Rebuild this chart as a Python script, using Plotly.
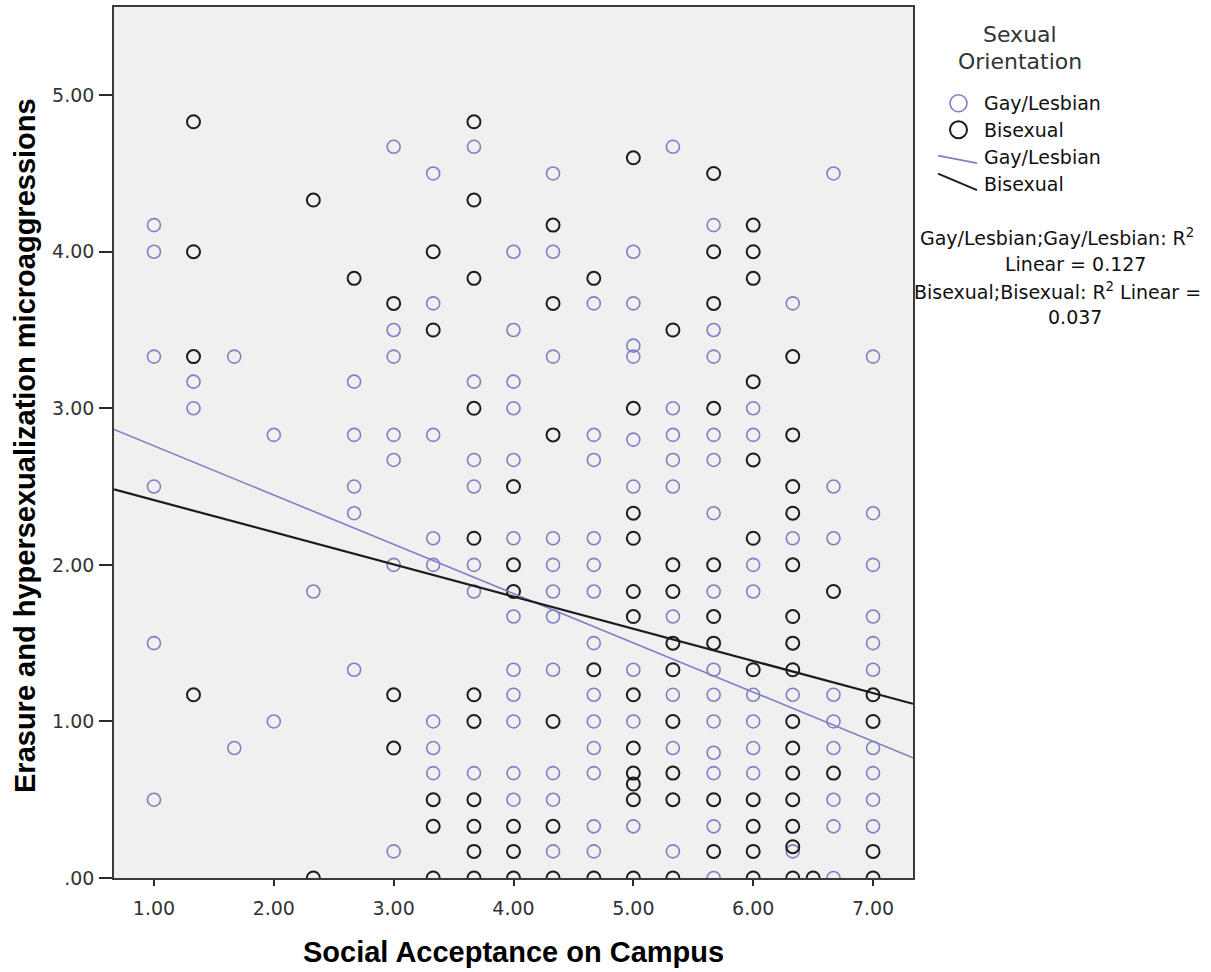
import plotly.graph_objects as go

# ---------------- data ----------------
# Gay/Lesbian points, listed column by column (x = Social Acceptance)
gl_x = ([1.00] * 6 + [1.33] * 2 + [1.67] * 2 + [2.00] * 2 + [2.33] * 1 + [2.67] * 5 +
        [3.00] * 7 + [3.33] * 8 + [3.67] * 7 + [4.00] * 12 + [4.33] * 11 + [4.67] * 13 +
        [5.00] * 9 + [5.33] * 9 + [5.67] * 14 + [6.00] * 8 + [6.33] * 4 + [6.67] * 9 +
        [7.00] * 10)
gl_y = [4.17, 4.00, 3.33, 2.50, 1.50, 0.50,
        3.17, 3.00,
        3.33, 0.83,
        2.83, 1.00,
        1.83,
        3.17, 2.83, 2.50, 2.33, 1.33,
        4.67, 3.50, 3.33, 2.83, 2.67, 2.00, 0.17,
        4.50, 3.67, 2.83, 2.17, 2.00, 1.00, 0.83, 0.67,
        4.67, 3.17, 2.67, 2.50, 2.00, 1.83, 0.67,
        4.00, 3.50, 3.17, 3.00, 2.67, 2.17, 1.67, 1.33, 1.17, 1.00, 0.67, 0.50,
        4.50, 4.00, 3.33, 2.17, 2.00, 1.83, 1.67, 1.33, 0.67, 0.50, 0.17,
        3.67, 2.83, 2.67, 2.17, 2.00, 1.83, 1.50, 1.17, 1.00, 0.83, 0.67, 0.33, 0.17,
        4.00, 3.67, 3.40, 3.33, 2.80, 2.50, 1.33, 1.00, 0.33,
        4.67, 3.00, 2.83, 2.67, 2.50, 1.67, 1.17, 0.83, 0.17,
        4.17, 3.50, 3.33, 2.83, 2.67, 2.33, 1.83, 1.33, 1.17, 1.00, 0.80, 0.67, 0.33, 0.00,
        3.00, 2.83, 2.00, 1.83, 1.17, 1.00, 0.83, 0.67,
        3.67, 2.17, 1.17, 0.17,
        4.50, 2.50, 2.17, 1.17, 1.00, 0.83, 0.50, 0.33, 0.00,
        3.33, 2.33, 2.00, 1.67, 1.50, 1.33, 0.83, 0.67, 0.50, 0.33]

# Bisexual points, listed column by column
bi_x = ([1.33] * 4 + [2.33] * 2 + [2.67] * 1 + [3.00] * 3 + [3.33] * 5 + [3.67] * 11 +
        [4.00] * 6 + [4.33] * 6 + [4.67] * 3 + [5.00] * 12 + [5.33] * 9 + [5.67] * 9 +
        [6.00] * 11 + [6.33] * 15 + [6.50] * 1 + [6.67] * 2 + [7.00] * 4)
bi_y = [4.83, 4.00, 3.33, 1.17,
        4.33, 0.00,
        3.83,
        3.67, 1.17, 0.83,
        4.00, 3.50, 0.50, 0.33, 0.00,
        4.83, 4.33, 3.83, 3.00, 2.17, 1.17, 1.00, 0.50, 0.33, 0.17, 0.00,
        2.50, 2.00, 1.83, 0.33, 0.17, 0.00,
        4.17, 3.67, 2.83, 1.00, 0.33, 0.00,
        3.83, 1.33, 0.00,
        4.60, 3.00, 2.33, 2.17, 1.83, 1.67, 1.17, 0.83, 0.67, 0.60, 0.50, 0.00,
        3.50, 2.00, 1.83, 1.50, 1.33, 1.00, 0.67, 0.50, 0.00,
        4.50, 4.00, 3.67, 3.00, 2.00, 1.67, 1.50, 0.50, 0.17,
        4.17, 4.00, 3.83, 3.17, 2.67, 2.17, 1.33, 0.50, 0.33, 0.17, 0.00,
        3.33, 2.83, 2.50, 2.33, 2.00, 1.67, 1.50, 1.33, 1.00, 0.83, 0.67, 0.50, 0.33, 0.20, 0.00,
        0.00,
        1.83, 0.67,
        1.17, 1.00, 0.17, 0.00]

# Linear fit lines: (intercept, slope)
gl_fit = (3.075, -0.3146)
bi_fit = (2.619, -0.2054)

x_tick_values = [1, 2, 3, 4, 5, 6, 7]
x_tick_labels = ["1.00", "2.00", "3.00", "4.00", "5.00", "6.00", "7.00"]
y_tick_values = [0, 1, 2, 3, 4, 5]
y_tick_labels = [".00", "1.00", "2.00", "3.00", "4.00", "5.00"]

group_names = ["Gay/Lesbian", "Bisexual"]
r2_lines = ["Gay/Lesbian;Gay/Lesbian: R<sup>2</sup>", "Linear = 0.127",
            "Bisexual;Bisexual: R<sup>2</sup> Linear =", "0.037"]

# ---------------- styling ----------------
W, H = 1211, 972
ML, MR, MT, MB = 114, 298, 5, 94
X_RANGE = [0.6667, 7.3333]
Y_RANGE = [0.0, 5.563]
PURPLE = "#7F7FC4"
BLACK = "#1C1C1C"
TICK_FONT = dict(family="DejaVu Sans", size=19, color="#333333")
LEG_FONT = dict(family="DejaVu Sans", size=19, color="#111111")
TITLE_FONT = dict(family="Liberation Sans, Arial", size=29, color="#000000")

plot_w = W - ML - MR
plot_h = H - MT - MB


def pxx(xp):
    return (xp - ML) / plot_w


def pxy(yp):
    return (H - MB - yp) / plot_h


fig = go.Figure()

fig.add_trace(go.Scatter(
    x=gl_x, y=gl_y, mode="markers", name=group_names[0],
    marker=dict(symbol="circle-open", size=13, color=PURPLE,
                line=dict(width=1.6, color=PURPLE)),
    showlegend=False))
fig.add_trace(go.Scatter(
    x=bi_x, y=bi_y, mode="markers", name=group_names[1],
    marker=dict(symbol="circle-open", size=13, color=BLACK,
                line=dict(width=2.0, color=BLACK)),
    showlegend=False))

for fit, col, w in [(gl_fit, PURPLE, 1.6), (bi_fit, BLACK, 2.2)]:
    xs = list(X_RANGE)
    ys = [fit[0] + fit[1] * v for v in xs]
    fig.add_trace(go.Scatter(x=xs, y=ys, mode="lines",
                             line=dict(color=col, width=w),
                             showlegend=False, hoverinfo="skip"))

axis_common = dict(showgrid=False, zeroline=False, showline=True, mirror=True,
                   linecolor="#3A3A3A", linewidth=1.6, ticks="outside",
                   tickcolor="#2A2A2A", tickwidth=1.6, tickfont=TICK_FONT)

fig.update_xaxes(range=X_RANGE, tickvals=x_tick_values, ticktext=x_tick_labels,
                 ticklen=6, ticklabelstandoff=6, **axis_common)
fig.update_yaxes(range=Y_RANGE, tickvals=y_tick_values, ticktext=y_tick_labels,
                 ticklen=13, ticklabelstandoff=1, **axis_common)

annotations = [
    dict(text="<b>Social Acceptance on Campus</b>", x=0.5, y=pxy(952),
         xref="paper", yref="paper", xanchor="center", yanchor="middle",
         showarrow=False, font=TITLE_FONT),
    dict(text="<b>Erasure and hypersexualization microaggressions</b>", x=pxx(25),
         y=pxy(445), xref="paper", yref="paper", xanchor="center", yanchor="middle",
         textangle=-90, showarrow=False, font=TITLE_FONT),
    dict(text="Sexual", x=pxx(1020), y=pxy(33), xref="paper", yref="paper",
         xanchor="center", yanchor="middle", showarrow=False,
         font=dict(family="DejaVu Sans", size=22, color="#333333")),
    dict(text="Orientation", x=pxx(1020), y=pxy(60), xref="paper", yref="paper",
         xanchor="center", yanchor="middle", showarrow=False,
         font=dict(family="DejaVu Sans", size=22, color="#333333")),
]
for name, yp in zip(group_names + group_names, [101, 128, 155, 182]):
    annotations.append(dict(text=name, x=pxx(982), y=pxy(yp), xref="paper", yref="paper",
                            xanchor="left", yanchor="middle", showarrow=False,
                            font=LEG_FONT))
for txt, (xc, yc) in zip(r2_lines, [(1057, 236), (1075, 263), (1057, 290), (1075, 316)]):
    annotations.append(dict(text=txt, x=pxx(xc), y=pxy(yc), xref="paper", yref="paper",
                            xanchor="center", yanchor="middle", showarrow=False,
                            font=LEG_FONT))

shapes = []
for col, yc, w in [(PURPLE, 101.5, 1.6), (BLACK, 128, 2.0)]:
    shapes.append(dict(type="circle", xref="paper", yref="paper",
                       x0=pxx(958.5 - 8.5), x1=pxx(958.5 + 8.5),
                       y0=pxy(yc + 8.5), y1=pxy(yc - 8.5),
                       line=dict(color=col, width=w)))
shapes.append(dict(type="line", xref="paper", yref="paper",
                   x0=pxx(938), y0=pxy(154), x1=pxx(977), y1=pxy(161.5),
                   line=dict(color=PURPLE, width=1.6)))
shapes.append(dict(type="line", xref="paper", yref="paper",
                   x0=pxx(938), y0=pxy(172), x1=pxx(977), y1=pxy(188.5),
                   line=dict(color=BLACK, width=2.0)))

fig.update_layout(
    width=W, height=H,
    margin=dict(l=ML, r=MR, t=MT, b=MB, pad=0),
    paper_bgcolor="white", plot_bgcolor="#F0F0F0",
    showlegend=False, annotations=annotations, shapes=shapes,
)

fig.write_html("out.html", config={"displayModeBar": False},
               post_script="document.body.style.margin='0';"
                           "document.body.style.padding='0';"
                           "document.body.style.overflow='hidden';")
